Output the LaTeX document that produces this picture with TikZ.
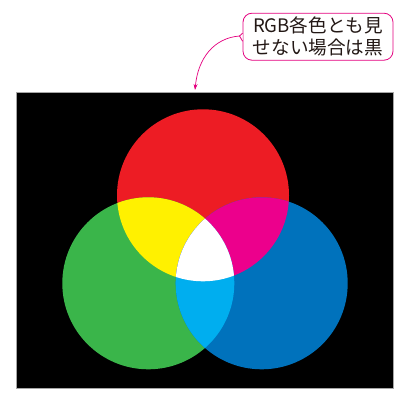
\documentclass[tikz,border=0pt]{standalone}
\usepackage{fontspec}
\newfontfamily\jp{Noto Sans CJK JP}
\usetikzlibrary{arrows.meta}
\definecolor{cR}{HTML}{ED1C24}
\definecolor{cG}{HTML}{3AB54A}
\definecolor{cB}{HTML}{0072BC}
\definecolor{cY}{HTML}{FFF100}
\definecolor{cM}{HTML}{EC008C}
\definecolor{cC}{HTML}{00AEEF}
\definecolor{pinkline}{HTML}{E4007F}
\definecolor{txt}{HTML}{231815}
\tikzset{
  callout/.style={draw=pinkline, line width=0.8pt, rounded corners=9pt, fill=white,
    minimum width=150pt, minimum height=47pt, align=center, text=txt,
    font=\jp\fontsize{18.6}{22}\selectfont, inner sep=0pt},
  leader/.style={draw=pinkline, line width=0.7pt, -{Stealth[length=6pt,width=4pt]}}
}
\begin{document}
\begin{tikzpicture}[x=1pt,y=-1pt]
\useasboundingbox (0,0) rectangle (398,393);
% background panel
\fill[black] (16.7,92.3) rectangle (393,388);
\draw[gray!70, line width=0.5pt] (16.7,92.3) rectangle (393,388);
\def\rr{86}
\coordinate (R) at (203,195.3);
\coordinate (G) at (148.3,283.3);
\coordinate (B) at (261.7,283.3);
\fill[cR] (R) circle (\rr);
\fill[cG] (G) circle (\rr);
\fill[cB] (B) circle (\rr);
\begin{scope}
  \clip (R) circle (\rr);
  \fill[cY] (G) circle (\rr);
  \fill[cM] (B) circle (\rr);
\end{scope}
\begin{scope}
  \clip (G) circle (\rr);
  \fill[cC] (B) circle (\rr);
  \clip (R) circle (\rr);
  \fill[white] (B) circle (\rr);
\end{scope}
% callout
\node[callout] (note) at (318,36.7) {RGB各色とも見\\せない場合は黒};
\coordinate (tip) at (239.5,36);
\coordinate (target) at (195,90);
\fill[white] ([yshift=-4pt]note.west) -- (tip) -- ([yshift=4pt]note.west) -- cycle;
\draw[pinkline, line width=0.8pt] ([yshift=-4.5pt]note.west) -- (tip) -- ([yshift=3.5pt]note.west);
\draw[leader] (tip) .. controls (214,38) and (198,58) .. (target);
\end{tikzpicture}
\end{document}
